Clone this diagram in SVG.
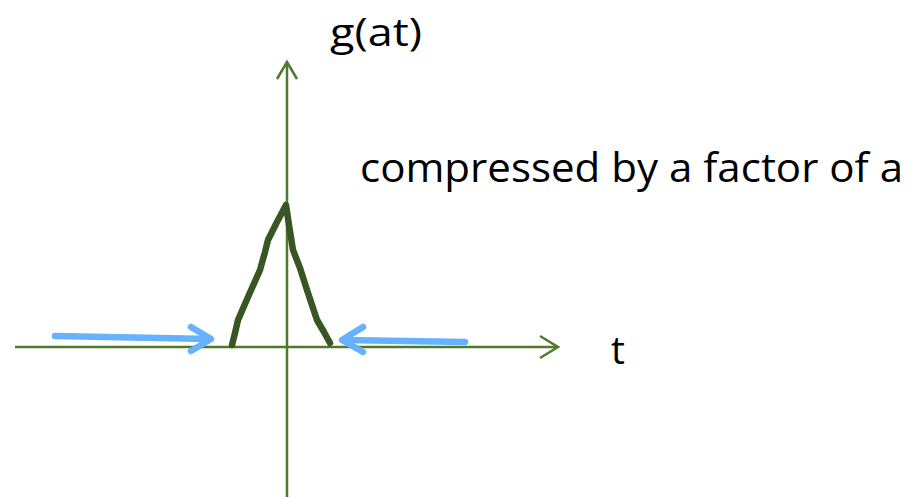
<svg xmlns="http://www.w3.org/2000/svg" width="921" height="497" viewBox="0 0 921 497">
<style>
.axis{stroke:#4f7a2c;stroke-width:2.5;fill:none}
.curve{stroke:#375623;stroke-width:6.5;fill:none;stroke-linecap:round;stroke-linejoin:round}
.blue{stroke:#66b2ff;stroke-width:6.5;fill:none;stroke-linecap:round;stroke-linejoin:round}
.lbl{font-family:"Open Sans","Liberation Sans",sans-serif;fill:#000}
</style>
<rect width="921" height="497" fill="#fff"/>
<g id="connectors">
<g id="x-axis"><path class="axis" d="M15 347 H558"/><path class="axis" d="M540 336 L558 347 L540 358"/></g>
<g id="y-axis"><path class="axis" d="M287 497 V62"/><path class="axis" d="M277 79 L287 62 L297 79"/></g>
<g id="arrow-left"><path class="blue" d="M55 336 L210 339"/><path class="blue" d="M191 327 L211 339 L191 351"/></g>
<g id="arrow-right"><path class="blue" d="M465 342 L343 340"/><path class="blue" d="M363 327 L342 340 L363 352"/></g>
</g>
<g id="pulse"><path class="curve" d="M232 345 L235 333 L238 320 L248 297 L260 270 L265 252 L268 240 L277 222 L286 205 L289 225 L293 250 L300 268 L307 290 L317 320 L324 332 L330 343"/></g>
<g id="label-g"><text class="lbl" x="330" y="46" font-size="39" textLength="92" lengthAdjust="spacingAndGlyphs">g(at)</text></g>
<g id="label-compressed"><text class="lbl" x="360" y="182" font-size="40" textLength="543" lengthAdjust="spacingAndGlyphs">compressed by a factor of a</text></g>
<g id="label-t"><text class="lbl" x="611" y="364" font-size="39">t</text></g>
</svg>
